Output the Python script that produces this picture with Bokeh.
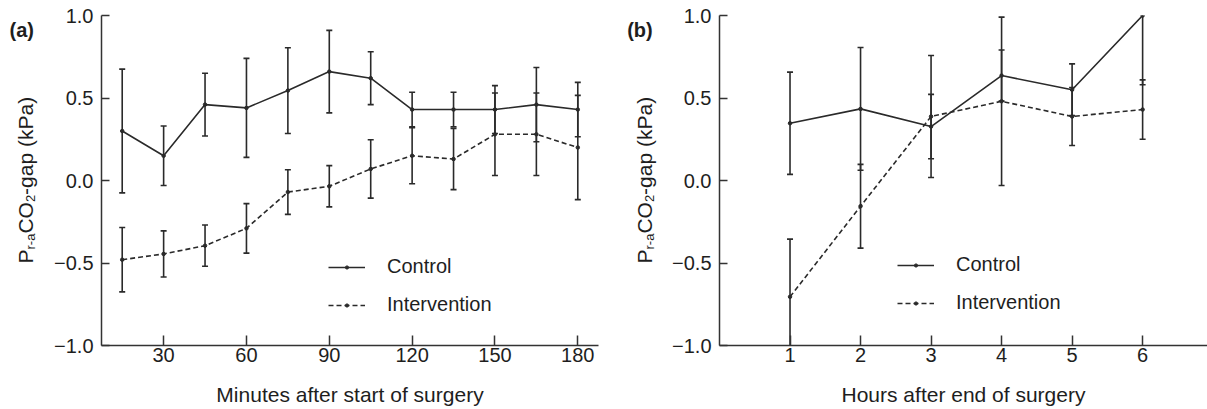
from bokeh.plotting import figure
from bokeh.models import (ColumnDataSource, FixedTicker, CustomJSTickFormatter,
                          Legend, LegendItem, Range1d)
from bokeh.layouts import row
from bokeh.core.properties import value
from bokeh.embed import file_html
from bokeh.resources import INLINE

# ---------------- data ----------------
minutes = [15, 30, 45, 60, 75, 90, 105, 120, 135, 150, 165, 180]
control_a = [0.30, 0.15, 0.46, 0.44, 0.545, 0.66, 0.62, 0.43, 0.43, 0.43, 0.46, 0.43]
control_a_err = [0.375, 0.18, 0.19, 0.30, 0.26, 0.25, 0.16, 0.105, 0.105, 0.145, 0.225, 0.165]
interv_a = [-0.48, -0.445, -0.395, -0.29, -0.07, -0.035, 0.07, 0.15, 0.13, 0.28, 0.28, 0.20]
interv_a_err = [0.195, 0.14, 0.125, 0.15, 0.135, 0.125, 0.177, 0.17, 0.185, 0.25, 0.25, 0.316]

hours = [1, 2, 3, 4, 5, 6]
control_b = [0.347, 0.434, 0.327, 0.636, 0.55, 1.0]
control_b_err = [0.31, 0.372, 0.195, 0.155, 0.157, 0.42]
interv_b = [-0.705, -0.156, 0.388, 0.48, 0.388, 0.43]
interv_b_err = [0.35, 0.254, 0.37, 0.51, 0.176, 0.18]

minute_ticks = [30, 60, 90, 120, 150, 180]
hour_ticks = [1, 2, 3, 4, 5, 6]
y_ticks = [-1.0, -0.5, 0.0, 0.5, 1.0]

x_label_a = "Minutes after start of surgery"
x_label_b = "Hours after end of surgery"
series_names = ["Control", "Intervention"]
# y label: P_{r-a}CO_2-gap (kPa)  -> (text, is_subscript)
y_label_parts = [("P", False), ("r-a", True), ("CO", False), ("2", True), ("-gap (kPa)", False)]

FONT = "Liberation Sans"
INK = "#2a2a2a"
TEXT = "#1e1e1e"
H = 409
TOP, BOTTOM = 15, 64

# approximate advance widths (em) of Liberation Sans for the label pieces
_em = {"P": 0.667, "r-a": 1.222, "CO": 1.5, "2": 0.556, "-gap (kPa)": 4.668}


def label_strip(width, base_x, tag_x, tag):
    """Narrow figure holding the panel tag and the rotated y-axis title.
    Its coordinates are canvas pixels (y measured upward from the bottom)."""
    f = figure(width=width, height=H, output_backend="svg", toolbar_location=None,
               x_range=Range1d(0, width), y_range=Range1d(BOTTOM, H - TOP),
               x_axis_location=None, y_axis_location=None,
               min_border_left=0, min_border_right=0,
               min_border_top=TOP, min_border_bottom=BOTTOM)
    f.outline_line_color = None
    f.grid.visible = False
    main, sub = 21, 13
    y = H - 263
    for txt, is_sub in y_label_parts:
        size = sub if is_sub else main
        f.text(x=[base_x + (5 if is_sub else 0)], y=[y], text=[txt], angle=1.5707963,
               text_font=value(FONT), text_font_size=f"{size}px", text_color=TEXT,
               text_align="left", text_baseline="alphabetic")
        y += _em[txt] * size
    f.text(x=[tag_x], y=[H - 29.5], text=[tag], text_font=value(FONT),
           text_font_size="20px", text_font_style="bold", text_color=TEXT,
           text_align="left", text_baseline="alphabetic")
    return f


def make_panel(xs, c, ce, iv, ie, xticks, xr, xlabel, width, left, right, leg_loc):
    p = figure(width=width, height=H, output_backend="svg", toolbar_location=None,
               x_range=Range1d(*xr), y_range=Range1d(-1.0, 1.0),
               min_border_left=left, min_border_right=right,
               min_border_top=TOP, min_border_bottom=BOTTOM)
    p.outline_line_color = None
    p.grid.visible = False

    for ax, tin in ((p.xaxis[0], 10), (p.yaxis[0], 8)):
        ax.axis_line_color = "#333333"
        ax.axis_line_width = 1.5
        ax.major_tick_line_color = "#333333"
        ax.major_tick_line_width = 1.5
        ax.major_tick_in = tin
        ax.major_tick_out = 0
        ax.minor_tick_line_color = None
        ax.major_label_text_font = FONT
        ax.major_label_text_font_size = "20px"
        ax.major_label_text_color = TEXT

    p.xaxis.ticker = FixedTicker(ticks=xticks)
    p.xaxis.major_label_standoff = 2
    p.xaxis.axis_label = xlabel
    p.xaxis.axis_label_text_font = FONT
    p.xaxis.axis_label_text_font_size = "21px"
    p.xaxis.axis_label_text_font_style = "normal"
    p.xaxis.axis_label_text_color = TEXT
    p.xaxis.axis_label_standoff = 18

    p.yaxis.ticker = FixedTicker(ticks=y_ticks)
    p.yaxis.formatter = CustomJSTickFormatter(
        code="return (tick < 0 ? '\\u2212' : '') + Math.abs(tick).toFixed(1);")
    p.yaxis.major_label_standoff = 8

    src_c = ColumnDataSource(dict(x=xs, y=c, lo=[m - e for m, e in zip(c, ce)],
                                  hi=[m + e for m, e in zip(c, ce)]))
    src_i = ColumnDataSource(dict(x=xs, y=iv, lo=[m - e for m, e in zip(iv, ie)],
                                  hi=[m + e for m, e in zip(iv, ie)]))

    items = []
    for src, dash, name in ((src_c, "solid", series_names[0]), (src_i, "5 3", series_names[1])):
        p.segment(x0="x", y0="lo", x1="x", y1="hi", source=src, line_color=INK, line_width=1.6)
        p.scatter(x="x", y="lo", source=src, marker="dash", size=6, line_color=INK, line_width=1.6)
        p.scatter(x="x", y="hi", source=src, marker="dash", size=6, line_color=INK, line_width=1.6)
        lr = p.line(x="x", y="y", source=src, line_color=INK, line_width=1.6, line_dash=dash)
        dr = p.scatter(x="x", y="y", source=src, marker="circle", size=3.5,
                       fill_color=INK, line_color=INK)
        items.append(LegendItem(label=name, renderers=[lr, dr]))

    leg = Legend(items=items, location=leg_loc, glyph_width=37, glyph_height=8,
                 label_height=23, label_standoff=22, spacing=15, padding=0, margin=0,
                 border_line_color=None, background_fill_alpha=0,
                 label_text_font=FONT, label_text_font_size="20px", label_text_color=TEXT)
    p.add_layout(leg, "center")
    return p


la = label_strip(50, 25, 9, "(a)")
pa = make_panel(minutes, control_a, control_a_err, interv_a, interv_a_err, minute_ticks,
                (7.5, 187.5), x_label_a, 560, 51, 12, (227, 29))
lb = label_strip(50, 33.5, 16.7, "(b)")
pb = make_panel(hours, control_b, control_b_err, interv_b, interv_b_err, hour_ticks,
                (0.0, 6.92), x_label_b, 547, 59, 0, (178, 31))

layout = row(la, pa, lb, pb)
with open("out.html", "w", encoding="utf-8") as f:
    f.write(file_html(layout, INLINE))
